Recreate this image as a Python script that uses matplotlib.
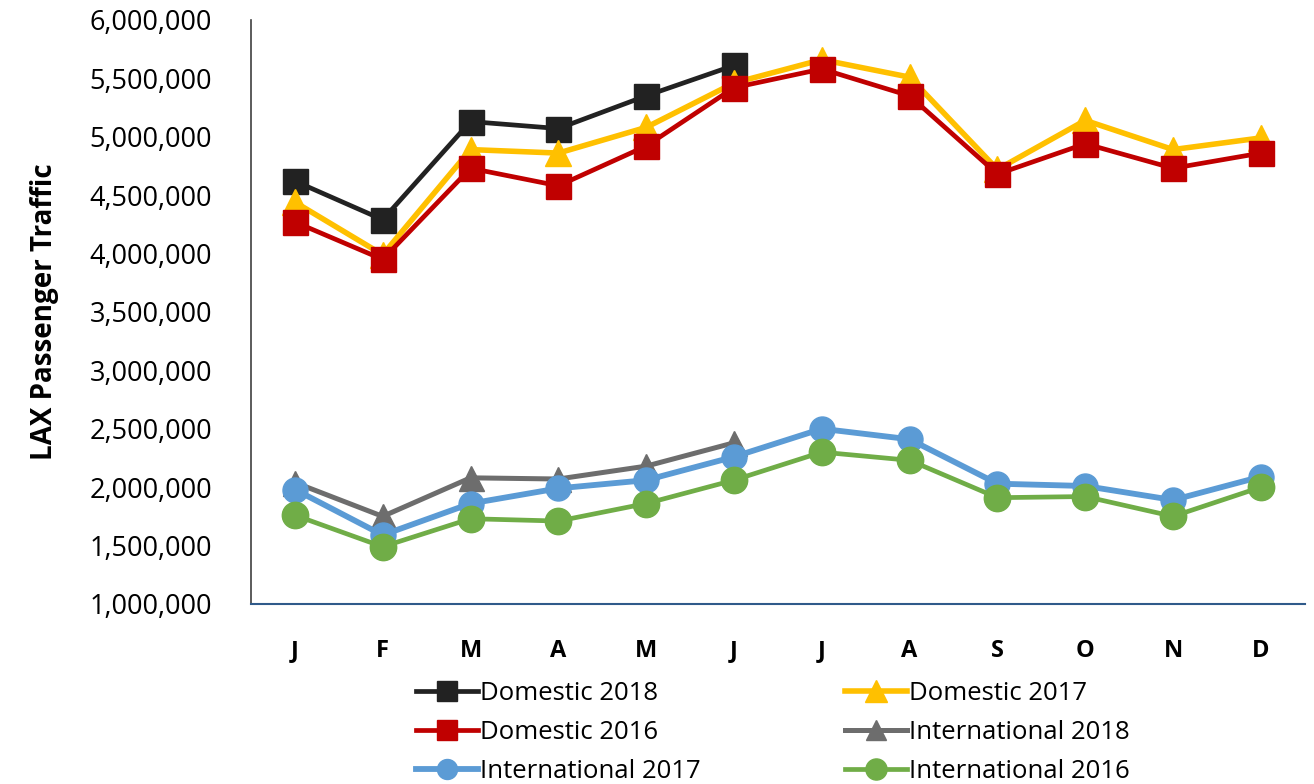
import matplotlib.pyplot as plt
from matplotlib.ticker import FuncFormatter

plt.rcParams['font.family'] = ['Open Sans', 'DejaVu Sans']

months = ['J', 'F', 'M', 'A', 'M', 'J', 'J', 'A', 'S', 'O', 'N', 'D']

dom_2018 = [4620000, 4290000, 5130000, 5070000, 5350000, 5610000]
dom_2017 = [4440000, 3990000, 4890000, 4860000, 5080000, 5460000,
            5660000, 5510000, 4720000, 5140000, 4890000, 4990000]
dom_2016 = [4270000, 3950000, 4730000, 4580000, 4920000, 5420000,
            5580000, 5350000, 4680000, 4940000, 4730000, 4860000]
intl_2018 = [2040000, 1750000, 2080000, 2070000, 2180000, 2380000]
intl_2017 = [1980000, 1590000, 1860000, 1990000, 2060000, 2260000,
             2500000, 2410000, 2030000, 2010000, 1890000, 2090000]
intl_2016 = [1760000, 1490000, 1730000, 1710000, 1860000, 2060000,
             2300000, 2230000, 1910000, 1920000, 1750000, 2000000]

series = [
    ('Domestic 2018', dom_2018, '#222222', 's', 18, 3.4),
    ('Domestic 2017', dom_2017, '#FFC000', '^', 19, 4.0),
    ('Domestic 2016', dom_2016, '#C00000', 's', 18, 3.4),
    ('International 2018', intl_2018, '#6D6D6D', '^', 18, 3.6),
    ('International 2017', intl_2017, '#5B9BD5', 'o', 18, 4.2),
    ('International 2016', intl_2016, '#70AD47', 'o', 19, 3.4),
]

fig = plt.figure(figsize=(13.14, 7.84), dpi=100)
ax = fig.add_axes([0.191, 0.2296, 0.802, 0.745])

x = list(range(len(months)))
for label, vals, color, marker, ms, lw in series:
    ax.plot(x[:len(vals)], vals, color=color, marker=marker, markersize=ms,
            linewidth=lw, label=label, zorder=3)

ax.set_xlim(-0.5, 11.5)
ax.set_ylim(1000000, 6000000)
ax.set_yticks(range(1000000, 6000001, 500000))
ax.yaxis.set_major_formatter(FuncFormatter(lambda v, p: f'{int(v):,}'))
ax.set_xticks(x)
ax.set_xticklabels(months, fontweight='bold')
ax.tick_params(axis='x', length=0, labelsize=17, pad=25)
ax.tick_params(axis='y', length=0, labelsize=19.5, pad=28)

ax.spines['top'].set_visible(False)
ax.spines['right'].set_visible(False)
ax.spines['left'].set_color('#404040')
ax.spines['left'].set_linewidth(1.2)
ax.spines['bottom'].set_color('#2F5A8A')
ax.spines['bottom'].set_linewidth(1.5)

ax.set_ylabel('LAX Passenger Traffic', fontsize=20, fontweight='bold', labelpad=22)

handles, labels = ax.get_legend_handles_labels()
order = [0, 2, 4, 1, 3, 5]
fig.legend([handles[i] for i in order], [labels[i] for i in order],
           loc='upper left', bbox_to_anchor=(0.307, 0.148),
           ncol=2, frameon=False, fontsize=18.5, handlelength=2.4,
           handletextpad=0.1, columnspacing=5.6, labelspacing=0.55,
           borderpad=0, markerscale=0.8)

fig.savefig('out.png', dpi=100)
